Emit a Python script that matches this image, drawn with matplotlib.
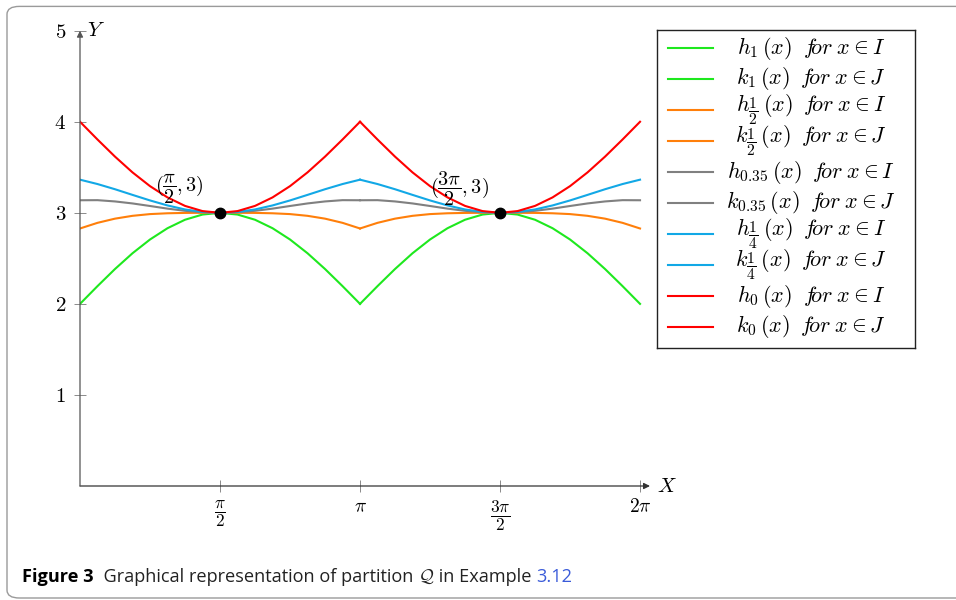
import numpy as np
import matplotlib
matplotlib.use("Agg")
import matplotlib.pyplot as plt
from matplotlib.patches import FancyBboxPatch

plt.rcParams['mathtext.fontset'] = 'cm'
plt.rcParams['font.family'] = 'DejaVu Serif'

# sample grid (pi/16 steps) on I = [0, pi] and J = [pi, 2pi]
x_I = np.linspace(0, np.pi, 17)
x_J = np.linspace(np.pi, 2 * np.pi, 17)

# values
h_1 = [2.000, 2.195, 2.383, 2.556, 2.707, 2.831, 2.924, 2.981, 3.000,
       2.981, 2.924, 2.831, 2.707, 2.556, 2.383, 2.195, 2.000]
k_1 = [2.000, 2.195, 2.383, 2.556, 2.707, 2.831, 2.924, 2.981, 3.000,
       2.981, 2.924, 2.831, 2.707, 2.556, 2.383, 2.195, 2.000]
h_half = [2.828, 2.890, 2.936, 2.967, 2.986, 2.995, 2.999, 3.000, 3.000,
          3.000, 2.999, 2.995, 2.986, 2.967, 2.936, 2.890, 2.828]
k_half = [2.828, 2.890, 2.936, 2.967, 2.986, 2.995, 2.999, 3.000, 3.000,
          3.000, 2.999, 2.995, 2.986, 2.967, 2.936, 2.890, 2.828]
h_035 = [3.138, 3.139, 3.125, 3.103, 3.075, 3.046, 3.022, 3.006, 3.000,
         3.006, 3.022, 3.046, 3.075, 3.103, 3.125, 3.139, 3.138]
k_035 = [3.138, 3.139, 3.125, 3.103, 3.075, 3.046, 3.022, 3.006, 3.000,
         3.006, 3.022, 3.046, 3.075, 3.103, 3.125, 3.139, 3.138]
h_quarter = [3.364, 3.316, 3.259, 3.197, 3.136, 3.081, 3.037, 3.010, 3.000,
             3.010, 3.037, 3.081, 3.136, 3.197, 3.259, 3.316, 3.364]
k_quarter = [3.364, 3.316, 3.259, 3.197, 3.136, 3.081, 3.037, 3.010, 3.000,
             3.010, 3.037, 3.081, 3.136, 3.197, 3.259, 3.316, 3.364]
h_0 = [4.000, 3.805, 3.617, 3.444, 3.293, 3.169, 3.076, 3.019, 3.000,
       3.019, 3.076, 3.169, 3.293, 3.444, 3.617, 3.805, 4.000]
k_0 = [4.000, 3.805, 3.617, 3.444, 3.293, 3.169, 3.076, 3.019, 3.000,
       3.019, 3.076, 3.169, 3.293, 3.444, 3.617, 3.805, 4.000]

lambdas = ['1', r'\dfrac{1}{2}', '0.35', r'\dfrac{1}{4}', '0']
h_series = [h_1, h_half, h_035, h_quarter, h_0]
k_series = [k_1, k_half, k_035, k_quarter, k_0]
colors = ['#1ee81e', '#ff7f0a', '#808080', '#12a8e6', '#ff0000']

pts_x = [np.pi / 2, 3 * np.pi / 2]
pts_y = [3, 3]
pts_lbl = [r'$(\dfrac{\pi}{2},3)$', r'$(\dfrac{3\pi}{2},3)$']

xticks = [np.pi / 2, np.pi, 3 * np.pi / 2, 2 * np.pi]
xtick_lbl = [r'$\dfrac{\pi}{2}$', r'$\pi$', r'$\dfrac{3\pi}{2}$', r'$2\pi$']
yticks = [1, 2, 3, 4, 5]

W, H = 956, 600
fig = plt.figure(figsize=(W / 100, H / 100), dpi=100)

def fx(px):
    return px / W

def fy(py):
    return 1 - py / H

ax = fig.add_axes([fx(80), fy(486), fx(650) - fx(80), fy(30.7) - fy(486)])
ax.set_xlim(0, 6.395)
ax.set_ylim(0, 5)

for hs, ks, c in zip(h_series, k_series, colors):
    ax.plot(x_I, hs, color=c, lw=1.5, zorder=3)
    ax.plot(x_J, ks, color=c, lw=1.5, zorder=3)

ax.plot(pts_x, pts_y, 'o', color='black', ms=7.5, zorder=5)
for x0, y0, t in zip(pts_x, pts_y, pts_lbl):
    ax.annotate(t, (x0, y0), xytext=(-29, 17), textcoords='offset points',
                ha='center', va='center', fontsize=14.5)

for s in ax.spines.values():
    s.set_visible(False)
ax.annotate('', xy=(1, 0), xytext=(0, 0), xycoords='axes fraction',
            arrowprops=dict(arrowstyle='-|>', color='#333333', lw=0.9,
                            mutation_scale=9, shrinkA=0, shrinkB=0))
ax.annotate('', xy=(0, 1), xytext=(0, 0), xycoords='axes fraction',
            arrowprops=dict(arrowstyle='-|>', color='#555555', lw=0.9,
                            mutation_scale=9, shrinkA=0, shrinkB=0))
ax.text(1.012, 0, r'$X$', transform=ax.transAxes, fontsize=15,
        ha='left', va='center')
ax.text(0.012, 1, r'$Y$', transform=ax.transAxes, fontsize=15,
        ha='left', va='center')

ax.set_xticks(xticks)
ax.set_xticklabels(xtick_lbl, fontsize=14)
for t in ax.get_xticklabels():
    if 'dfrac' in t.get_text():
        t.set_fontsize(12.5)
ax.set_yticks(yticks)
ax.set_yticklabels(['$%d$' % v for v in yticks], fontsize=15)
ax.tick_params(direction='inout', length=8, width=0.6, color='#777777')
ax.tick_params(axis='x', pad=5)
ax.tick_params(axis='y', pad=6)

# legend drawn by hand so the labels sit centred like the original
lg = fig.add_axes([fx(657), fy(348), fx(915) - fx(657), fy(30) - fy(348)])
lg.set_xlim(0, 258)
lg.set_ylim(318, 0)
lg.set_xticks([])
lg.set_yticks([])
for s in lg.spines.values():
    s.set_color('#222222')
    s.set_linewidth(1.0)
row = 0
for lam, c in zip(lambdas, colors):
    for fn, dom in (('h', 'I'), ('k', 'J')):
        yr = 18 + 31 * row
        lg.plot([11, 56], [yr, yr], color=c, lw=1.5)
        lg.text(154, yr, r'$%s_{%s}\,(x)\;\;f\!or\;x\in %s$' % (fn, lam, dom),
                ha='center', va='center', fontsize=16)
        row += 1

# caption
fig.canvas.draw()
r = fig.canvas.get_renderer()
parts = [('Figure 3', 'bold', 'black'),
         ('  Graphical representation of partition ', 'normal', '#222222'),
         (r'$\mathcal{Q}$', 'normal', '#222222'),
         (' in Example ', 'normal', '#222222'),
         ('3.12', 'normal', '#3a5bd9')]
xpos = fx(22)
for txt, wt, col in parts:
    t = fig.text(xpos, fy(582), txt, fontsize=13.1, fontweight=wt, color=col,
                 family='Open Sans', ha='left', va='baseline')
    bb = t.get_window_extent(renderer=r)
    xpos += bb.width / W

frame = FancyBboxPatch((fx(7) + 0.008, fy(601) + 0.013), 1.1, 0.97,
                       boxstyle='round,pad=0.008,rounding_size=0.013',
                       transform=fig.transFigure, fill=False,
                       edgecolor='#9a9a9a', lw=1.0)
fig.patches.append(frame)

fig.savefig('out.png', dpi=100)
